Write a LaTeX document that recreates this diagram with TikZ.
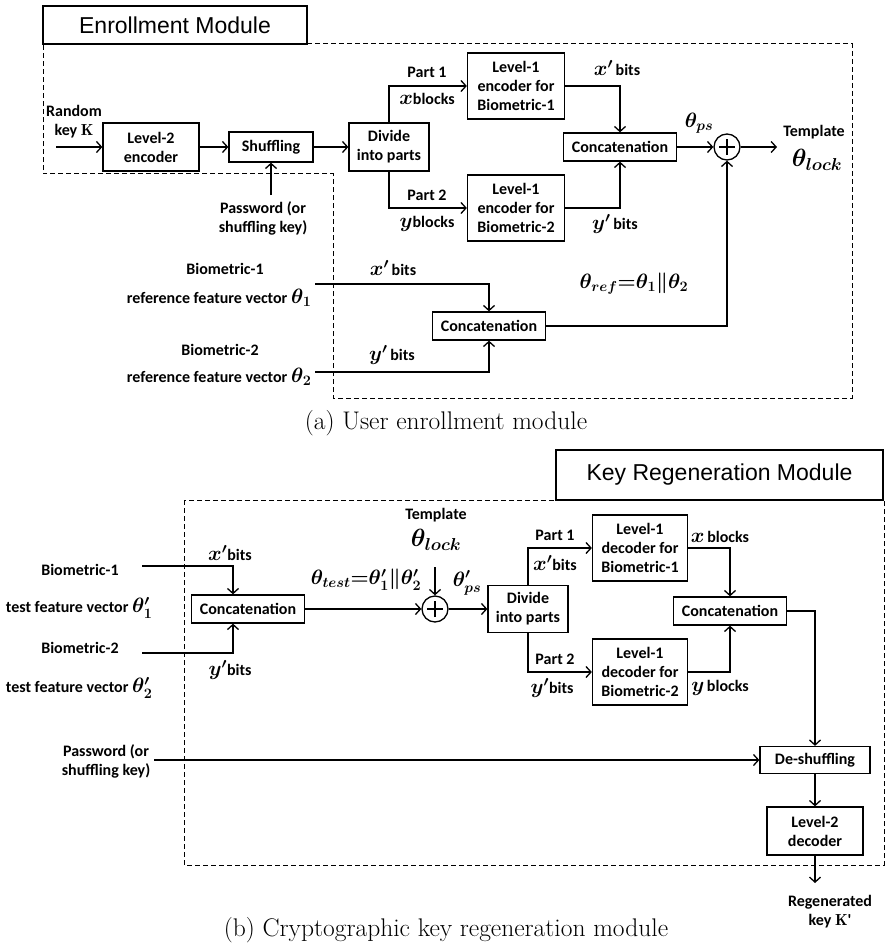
\documentclass[tikz,border=0pt]{standalone}
\usepackage{fontspec}
\usepackage{tikz}
\usetikzlibrary{positioning,arrows.meta,calc}
\newfontfamily\lblfont{Carlito}
\newfontfamily\titlefont{Liberation Sans}
\newcommand{\mathlbl}[1]{{\fontsize{22}{24}\selectfont\boldmath$#1$}}

\begin{document}
\begin{tikzpicture}[
  x=1pt, y=-1pt,
  font=\lblfont\bfseries\fontsize{16}{19}\selectfont,
  >={Straight Barb[length=5pt,width=11pt]},
  line width=1.3pt,
  blockbox/.style={
    draw, align=center, inner sep=2pt
  },
  titlebox/.style={
    draw, fill=white, line width=1.2pt,
    font=\titlefont\fontsize{23}{26}\selectfont
  },
  lbl/.style={align=center, inner sep=1pt},
  mathnode/.style={inner sep=1pt, font=\fontsize{21}{24}\selectfont\boldmath},
  caption/.style={font=\normalfont\fontsize{25.5}{28}\selectfont},
  region/.style={line width=1pt, dash pattern=on 5pt off 3pt},
  xorop/.style={
    circle, draw, minimum size=26pt, inner sep=0pt,
    path picture={
      \draw[line width=2.2pt]
        ([yshift=-8pt]path picture bounding box.center) -- ([yshift=8pt]path picture bounding box.center)
        ([xshift=-8pt]path picture bounding box.center) -- ([xshift=8pt]path picture bounding box.center);
    }
  }
]
  \useasboundingbox (0,0) rectangle (892,952);

  % ---------------- (a) Enrollment module ----------------
  \draw[region] (43,44) -- (852,44) -- (852,398) -- (333,398) -- (333,174) -- (43,174) -- cycle;
  \node[titlebox, minimum width=264pt, minimum height=38pt] (enrtitle) at (175,25) {Enrollment Module};

  % Blocks
  \node[blockbox, minimum width=96pt, minimum height=48pt] (enc2) at (151,147) {Level-2\\encoder};
  \node[blockbox, minimum width=84pt, minimum height=30pt] (shuf) at (271,147) {Shuffling};
  \node[blockbox, minimum width=80pt, minimum height=48pt] (divide) at (389,147) {Divide\\into parts};
  \node[blockbox, minimum width=97pt, minimum height=66pt] (enc1a) at (516,86) {Level-1\\encoder for\\Biometric-1};
  \node[blockbox, minimum width=97pt, minimum height=66pt] (enc1b) at (516,208) {Level-1\\encoder for\\Biometric-2};
  \node[blockbox, minimum width=113pt, minimum height=28pt] (cat1) at (620,147) {Concatenation};
  \node[xorop] (xor1) at (727,147) {};
  \node[blockbox, minimum width=113pt, minimum height=28pt] (cat2) at (489,326) {Concatenation};

  % Labels
  \node[lbl] (keylbl) at (74,122) {Random\\key $\mathbf{K}$};
  \node[lbl] (pwlbl) at (263,218) {Password (or\\shuffling key)};
  \node[lbl] (p1lbl) at (427,72) {Part 1};
  \node[lbl] (xblk) at (427,99) {\mathlbl{x}blocks};
  \node[lbl] (p2lbl) at (427,195) {Part 2};
  \node[lbl] (yblk) at (427,224) {\mathlbl{y}blocks};
  \node[lbl] (xbits1) at (617,68) {\mathlbl{x'}\,bits};
  \node[lbl] (ybits1) at (615,224) {\mathlbl{y'}\,bits};
  \node[mathnode] (thps) at (699,123) {$\theta_{ps}$};
  \node[lbl] (tmpl1) at (814,132) {Template};
  \node[mathnode, font=\fontsize{25}{27}\selectfont\boldmath] (lock1) at (817,160) {$\theta_{lock}$};
  \node[lbl] (bio1) at (225,269) {Biometric-1};
  \node[lbl, anchor=east] (ref1) at (313,298) {reference feature vector \mathlbl{\theta_1}};
  \node[lbl] (xbits2) at (393,268) {\mathlbl{x'}\,bits};
  \node[lbl] (bio2) at (220,350) {Biometric-2};
  \node[lbl, anchor=east] (ref2) at (313,377) {reference feature vector \mathlbl{\theta_2}};
  \node[lbl] (ybits2) at (392,355) {\mathlbl{y'}\,bits};
  \node[mathnode] (thref) at (634,284) {$\theta_{ref}{=}\theta_1\|\theta_2$};
  \node[caption] (capa) at (446,423) {(a) User enrollment module};

  \coordinate (keyin) at (56,147);
  \coordinate (pwup) at (271,195);
  \coordinate (tmplout) at (777,147);
  \coordinate (bio1in) at (315,284);
  \coordinate (bio2in) at (315,372);

  % Connections
  \draw[->] (keyin) -- (enc2);
  \draw[->] (enc2) -- (shuf);
  \draw[->] (shuf) -- (divide);
  \draw[->] (pwup) -- (shuf.south);
  \draw[->] (divide.north) |- (enc1a.west);
  \draw[->] (divide.south) |- (enc1b.west);
  \draw[->] (enc1a.east) -| (cat1.north);
  \draw[->] (enc1b.east) -| (cat1.south);
  \draw[->] (cat1) -- (xor1);
  \draw[->] (xor1) -- (tmplout);
  \draw[->] (bio1in) -| (cat2.north);
  \draw[->] (bio2in) -| (cat2.south);
  \draw[->] (cat2.east) -| (xor1.south);

  % ---------------- (b) Key regeneration module ----------------
  \draw[region] (184,500) rectangle (884,865);
  \node[titlebox, minimum width=327pt, minimum height=50pt] (regtitle) at (719.5,475) {Key Regeneration Module};

  % Blocks
  \node[blockbox, minimum width=113pt, minimum height=28pt] (cat3) at (248,609) {Concatenation};
  \node[xorop] (xor2) at (435,609) {};
  \node[blockbox, minimum width=80pt, minimum height=47pt] (divide2) at (528,609) {Divide\\into parts};
  \node[blockbox, minimum width=95pt, minimum height=66pt] (dec1a) at (640,548) {Level-1\\decoder for\\Biometric-1};
  \node[blockbox, minimum width=95pt, minimum height=66pt] (dec1b) at (640,672) {Level-1\\decoder for\\Biometric-2};
  \node[blockbox, minimum width=113pt, minimum height=28pt] (cat4) at (730,611) {Concatenation};
  \node[blockbox, minimum width=110pt, minimum height=27pt] (deshuf) at (815,760) {De-shuffling};
  \node[blockbox, minimum width=96pt, minimum height=48pt] (dec2) at (815,831) {Level-2\\decoder};

  % Labels
  \node[lbl] (bio1b) at (80,570) {Biometric-1};
  \node[lbl, anchor=east] (test1) at (154,608) {test feature vector \mathlbl{\theta'_1}};
  \node[lbl] (xbits3) at (230,553) {\mathlbl{x'}bits};
  \node[lbl] (bio2b) at (80,648) {Biometric-2};
  \node[lbl, anchor=east] (test2) at (154,688) {test feature vector \mathlbl{\theta'_2}};
  \node[lbl] (ybits3) at (230,670) {\mathlbl{y'}bits};
  \node[mathnode] (thtest) at (366,580) {$\theta_{test}{=}\theta'_1\|\theta'_2$};
  \node[lbl] (tmpl2) at (436,515) {Template};
  \node[mathnode, font=\fontsize{25}{27}\selectfont\boldmath] (lock2) at (436,540) {$\theta_{lock}$};
  \node[mathnode] (thps2) at (467,583) {$\theta'_{ps}$};
  \node[lbl] (p1b) at (555,535) {Part 1};
  \node[lbl] (xbits4) at (555,563) {\mathlbl{x'}bits};
  \node[lbl] (xblk2) at (720,537) {\mathlbl{x}\,blocks};
  \node[lbl] (p2b) at (555,659) {Part 2};
  \node[lbl] (ybits4) at (552,688) {\mathlbl{y'}bits};
  \node[lbl] (yblk2) at (720,688) {\mathlbl{y}\,blocks};
  \node[lbl] (pw2) at (106,761) {Password (or\\shuffling key)};
  \node[lbl] (regen) at (830,912) {Regenerated\\key $\mathbf{K}$'};
  \node[caption] (capb) at (446,930) {(b) Cryptographic key regeneration module};

  \coordinate (bio1bin) at (142,566);
  \coordinate (bio2bin) at (142,653);
  \coordinate (lockin) at (435,567);
  \coordinate (pwin) at (154,760);
  \coordinate (keyout) at (815,883);

  % Connections
  \draw[->] (bio1bin) -| ([xshift=-15pt]cat3.north);
  \draw[->] (bio2bin) -| ([xshift=-15pt]cat3.south);
  \draw[->] (cat3) -- (xor2);
  \draw[->] (lockin) -- (xor2.north);
  \draw[->] (xor2) -- (divide2);
  \draw[->] (divide2.north) |- (dec1a.west);
  \draw[->] (divide2.south) |- (dec1b.west);
  \draw[->] (dec1a.east) -| (cat4.north);
  \draw[->] (dec1b.east) -| (cat4.south);
  \draw[->] (cat4.east) -| (deshuf.north);
  \draw[->] (pwin) -- (deshuf.west);
  \draw[->] (deshuf) -- (dec2);
  \draw[->] (dec2.south) -- (keyout);

\end{tikzpicture}
\end{document}
